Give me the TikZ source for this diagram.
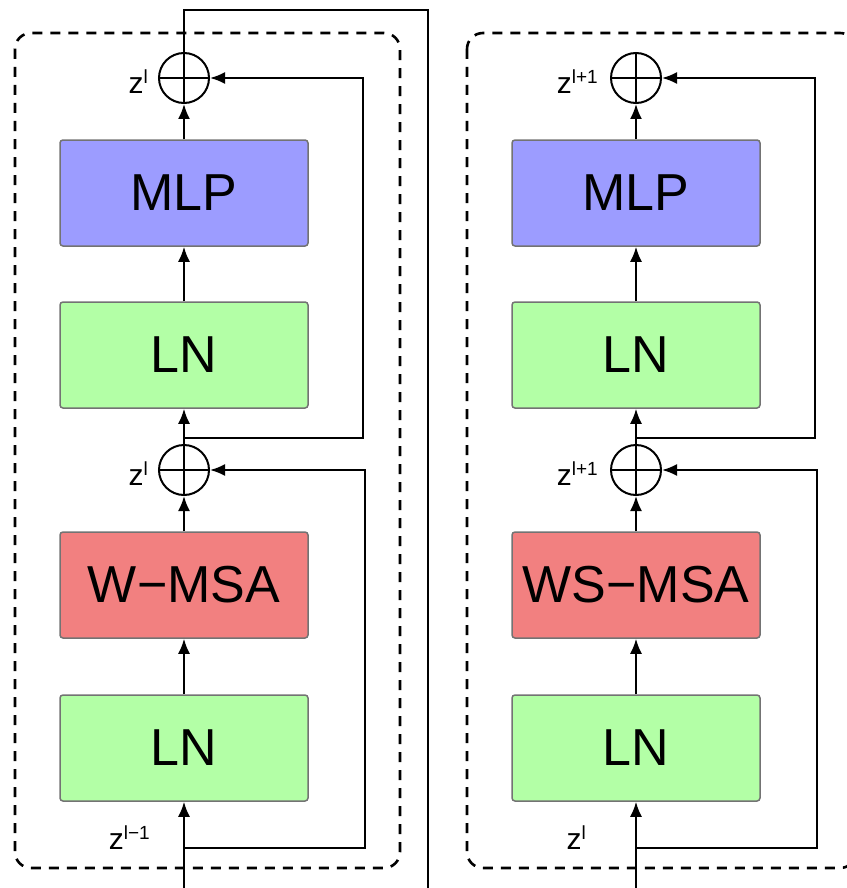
\documentclass[tikz,border=0pt]{standalone}
\usepackage{fontspec}
\setmainfont{Liberation Sans}
\usetikzlibrary{arrows.meta}
\definecolor{mlpc}{HTML}{9C9CFF}
\definecolor{lnc}{HTML}{B3FFA6}
\definecolor{msac}{HTML}{F28080}
\newcommand{\zlab}[1]{{\fontsize{30}{34}\selectfont z\raisebox{10pt}{\fontsize{19}{22}\selectfont #1}}}
\begin{document}
\begin{tikzpicture}[x=1pt,y=-1pt,
  blk/.style={draw=black!55, line width=1.5pt, rounded corners=3pt, minimum width=248pt, minimum height=106pt, inner sep=0pt, font=\fontsize{52}{60}\selectfont},
  addn/.style={draw, circle, line width=2pt, minimum size=50pt, inner sep=0pt,
    path picture={\draw[line width=2pt] (path picture bounding box.north) -- (path picture bounding box.south) (path picture bounding box.west) -- (path picture bounding box.east);}},
  con/.style={line width=2pt},
  arr/.style={con, -{Latex[length=15pt,width=12pt]}},
  dbox/.style={dashed, dash pattern=on 10pt off 8pt, line width=2.6pt, rounded corners=16pt},
  lab/.style={inner sep=0pt}
]
\useasboundingbox (0,0) rectangle (846,888);

% ---------- left block ----------
\draw[dbox] (15,33) rectangle (400,868);
\node[addn] (pa) at (184,78) {};
\node[blk, fill=mlpc] (mlpa) at (184,193) {MLP};
\node[blk, fill=lnc] (lnba) at (184,355) {LN};
\node[addn] (pb) at (184,470) {};
\node[blk, fill=msac] (msaa) at (184,585) {W−MSA};
\node[blk, fill=lnc] (lnaa) at (184,748) {LN};
\node[lab, anchor=east] (za1) at (148,82) {\zlab{l}};
\node[lab, anchor=east] (za2) at (148,474) {\zlab{l}};
\node[lab, anchor=east] (za0) at (150,838) {\zlab{l−1}};

\coordinate (ina) at (184,888);
\coordinate (bra) at (184,848);
\coordinate (bra1) at (365,848);
\coordinate (bra2) at (365,470);
\coordinate (brb) at (184,438);
\coordinate (brb1) at (363,438);
\coordinate (brb2) at (363,78);
\coordinate (topa) at (184,10);
\coordinate (topb) at (428,10);
\coordinate (outb) at (428,888);

\draw[arr] (ina) -- (lnaa.south);
\draw[arr] (lnaa.north) -- (msaa.south);
\draw[arr] (msaa.north) -- (pb.south);
\draw[arr] (pb.north) -- (lnba.south);
\draw[arr] (lnba.north) -- (mlpa.south);
\draw[arr] (mlpa.north) -- (pa.south);
\draw[arr] (bra) -- (bra1) -- (bra2) -- (pb.east);
\draw[arr] (brb) -- (brb1) -- (brb2) -- (pa.east);
\draw[con] (pa.north) -- (topa) -- (topb) -- (outb);

% ---------- right block ----------
\draw[dbox] (467,33) rectangle (856,868);
\node[addn] (qa) at (636,78) {};
\node[blk, fill=mlpc] (mlpb) at (636,193) {MLP};
\node[blk, fill=lnc] (lnbb) at (636,355) {LN};
\node[addn] (qb) at (636,470) {};
\node[blk, fill=msac] (msab) at (636,585) {WS−MSA};
\node[blk, fill=lnc] (lnab) at (636,748) {LN};
\node[lab, anchor=east] (zb1) at (598,82) {\zlab{l+1}};
\node[lab, anchor=east] (zb2) at (598,474) {\zlab{l+1}};
\node[lab, anchor=east] (zb0) at (586,838) {\zlab{l}};

\coordinate (inb) at (636,888);
\coordinate (brc) at (636,848);
\coordinate (brc1) at (817,848);
\coordinate (brc2) at (817,470);
\coordinate (brd) at (636,438);
\coordinate (brd1) at (815,438);
\coordinate (brd2) at (815,78);

\draw[arr] (inb) -- (lnab.south);
\draw[arr] (lnab.north) -- (msab.south);
\draw[arr] (msab.north) -- (qb.south);
\draw[arr] (qb.north) -- (lnbb.south);
\draw[arr] (lnbb.north) -- (mlpb.south);
\draw[arr] (mlpb.north) -- (qa.south);
\draw[arr] (brc) -- (brc1) -- (brc2) -- (qb.east);
\draw[arr] (brd) -- (brd1) -- (brd2) -- (qa.east);
\end{tikzpicture}
\end{document}
